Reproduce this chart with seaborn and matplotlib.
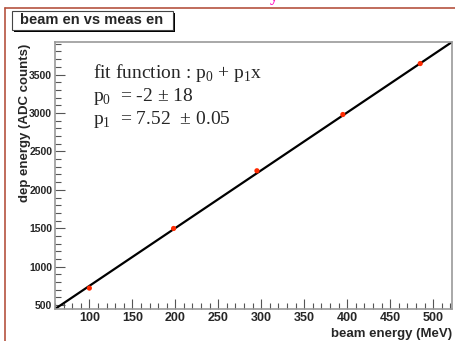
import numpy as np
import matplotlib
matplotlib.use('Agg')
import matplotlib.pyplot as plt
import seaborn as sns
from matplotlib.ticker import MultipleLocator
from matplotlib.patches import Rectangle
from matplotlib.lines import Line2D

# data
beam_energy = [100, 198, 295, 395, 485]
dep_energy = [721, 1497, 2248, 2980, 3643]
fit_p0 = -2
fit_p1 = 7.52
x_range = [60, 522]

sns.set_style('white')
plt.rcParams['font.family'] = ['Liberation Sans', 'DejaVu Sans']

fig = plt.figure(figsize=(4.55, 3.41), dpi=100)
ax = fig.add_axes([55 / 455, 32 / 341, 397 / 455, 267 / 341])

# fit line
fit_x = np.array(x_range)
fit_y = fit_p0 + fit_p1 * fit_x
sns.lineplot(x=fit_x, y=fit_y, ax=ax, color='black', linewidth=1.6, zorder=2)
sns.scatterplot(x=beam_energy, y=dep_energy, ax=ax, color='#ff2a00', s=14,
                edgecolor='none', zorder=3)

ax.set_xlim(fit_x[0], fit_x[1])
ax.set_ylim(fit_y[0], fit_y[1])

ax.xaxis.set_major_locator(MultipleLocator(50))
ax.xaxis.set_minor_locator(MultipleLocator(10))
ax.yaxis.set_major_locator(MultipleLocator(500))
ax.yaxis.set_minor_locator(MultipleLocator(100))
ax.tick_params(which='major', direction='in', length=7, width=0.8, color='#555555',
               pad=3, bottom=True, left=True)
ax.tick_params(which='minor', direction='in', length=4, width=0.8, color='#555555',
               bottom=True, left=True)
ax.tick_params(axis='x', labelsize=9, pad=2)
ax.tick_params(axis='y', labelsize=7.5, pad=2)
for lab in ax.get_xticklabels() + ax.get_yticklabels():
    lab.set_fontweight('bold')
for s in ax.spines.values():
    s.set_color('#999999')
    s.set_linewidth(1.2)

fig.text(452 / 455, 1 - 334 / 341, 'beam energy (MeV)', ha='right', va='center',
         fontsize=9.5, fontweight='bold')
fig.text(25 / 455, 1 - 44 / 341, 'dep energy (ADC counts)', ha='center', va='top',
         rotation=90, fontsize=9.5, fontweight='bold')

# fit result text
serif = ['Liberation Serif', 'DejaVu Serif']
plt.rcParams['mathtext.fontset'] = 'custom'
plt.rcParams['mathtext.rm'] = 'Liberation Serif'
fig.text(93 / 455, 1 - 78 / 341, r'fit function : p$_0$ + p$_1$x', family=serif,
         fontsize=14, va='baseline')
fig.text(93 / 455, 1 - 101 / 341, r'p$_0$  = -2 $\pm$ 18', family=serif,
         fontsize=14, va='baseline')
fig.text(93 / 455, 1 - 124 / 341, r'p$_1$  = 7.52  $\pm$ 0.05', family=serif,
         fontsize=14, va='baseline')

# title box with shadow (ROOT style)
fig.patches.append(Rectangle((14 / 455, 1 - 32 / 341), 161 / 455, 19 / 341,
                             transform=fig.transFigure, facecolor='black',
                             edgecolor='none', zorder=1))
fig.patches.append(Rectangle((12 / 455, 1 - 30 / 341), 161 / 455, 19 / 341,
                             transform=fig.transFigure, facecolor='white',
                             edgecolor='#444444', linewidth=0.8, zorder=2))
fig.text(92 / 455, 1 - 20.5 / 341, 'beam en vs meas en', ha='center', va='center',
         fontsize=10.5, fontweight='bold', zorder=3)

# slide frame lines
fig.lines.append(Line2D([5 / 455, 5 / 455], [0, 1 - 8 / 341], transform=fig.transFigure,
                        color='#b5533f', linewidth=1.2))
fig.lines.append(Line2D([5 / 455, 1], [1 - 8 / 341, 1 - 8 / 341], transform=fig.transFigure,
                        color='#b5533f', linewidth=1.2))
fig.text(270 / 455, 1 - 1 / 341, 'y', color='#ff10c0', fontsize=12, ha='left',
         va='baseline', family=serif, fontweight='bold')

fig.savefig('out.png', dpi=100)
